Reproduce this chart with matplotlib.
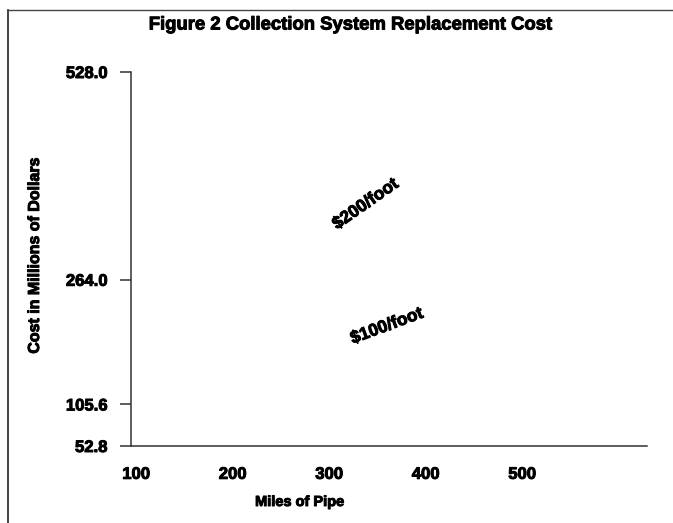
import matplotlib
matplotlib.use("Agg")
import matplotlib.pyplot as plt
from matplotlib.lines import Line2D
import matplotlib.patheffects as pe

plt.rcParams['font.family'] = ['Liberation Sans', 'DejaVu Sans']
plt.rcParams['font.weight'] = 'bold'

# ---- data ----
title = "Figure 2 Collection System Replacement Cost"
x_label = "Miles of Pipe"
y_label = "Cost in Millions of Dollars"
x_ticks = [100, 200, 300, 400, 500]
y_tick_values = [52.8, 105.6, 264.0, 528.0]
y_tick_labels = ["52.8", "105.6", "264.0", "528.0"]
line_labels = ["$200/foot", "$100/foot"]
label_x = [338, 360]
label_y = [360, 205]
label_angle = [35, 20.5]

heavy = [pe.withStroke(linewidth=0.7, foreground='black')]

fig = plt.figure(figsize=(6.73, 5.23), dpi=100)
ax = fig.add_axes([131/673, 1-446/523, (647-131)/673, (446-72)/523])
ax.set_xlim(94.8, 629.5)
ax.set_ylim(52.8, 528.0)

for s in ['top', 'right']:
    ax.spines[s].set_visible(False)
for s in ['left', 'bottom']:
    ax.spines[s].set_color('#333333')
    ax.spines[s].set_linewidth(1.1)

ax.set_xticks(x_ticks)
ax.set_xticklabels([str(v) for v in x_ticks])
ax.set_yticks(y_tick_values)
ax.set_yticklabels(y_tick_labels)
ax.tick_params(axis='x', length=0, pad=15, labelsize=12)
ax.tick_params(axis='y', length=8, width=1.1, color='#333333', pad=9, labelsize=12)
for lab in ax.get_xticklabels() + ax.get_yticklabels():
    lab.set_fontweight('bold')
    lab.set_path_effects(heavy)

ax.set_xlabel(x_label, fontsize=10.5, fontweight='bold', path_effects=heavy)
ax.xaxis.set_label_coords((300-131)/(647-131), -(495-446)/(446-72))
ax.set_ylabel(y_label, fontsize=11.5, fontweight='bold', path_effects=heavy)
ax.yaxis.set_label_coords(-(131-42)/(647-131), (446-255)/(446-72))

for t, xx, yy, a in zip(line_labels, label_x, label_y, label_angle):
    ax.text(xx, yy, t, rotation=a, rotation_mode='anchor', ha='center', va='center',
            fontsize=12.5, fontweight='bold', path_effects=heavy)

fig.text(350/673, 1-25/523, title, ha='center', va='center', fontsize=13.3,
         fontweight='bold', path_effects=heavy)

# scanned page border (left and top)
fig.add_artist(Line2D([8/673, 8/673], [0, 1-9.5/523], transform=fig.transFigure, color='#222222', lw=1.2))
fig.add_artist(Line2D([8/673, 1], [1-9.5/523, 1-9.5/523], transform=fig.transFigure, color='#444444', lw=1.0))

fig.savefig("out.png", dpi=100)
